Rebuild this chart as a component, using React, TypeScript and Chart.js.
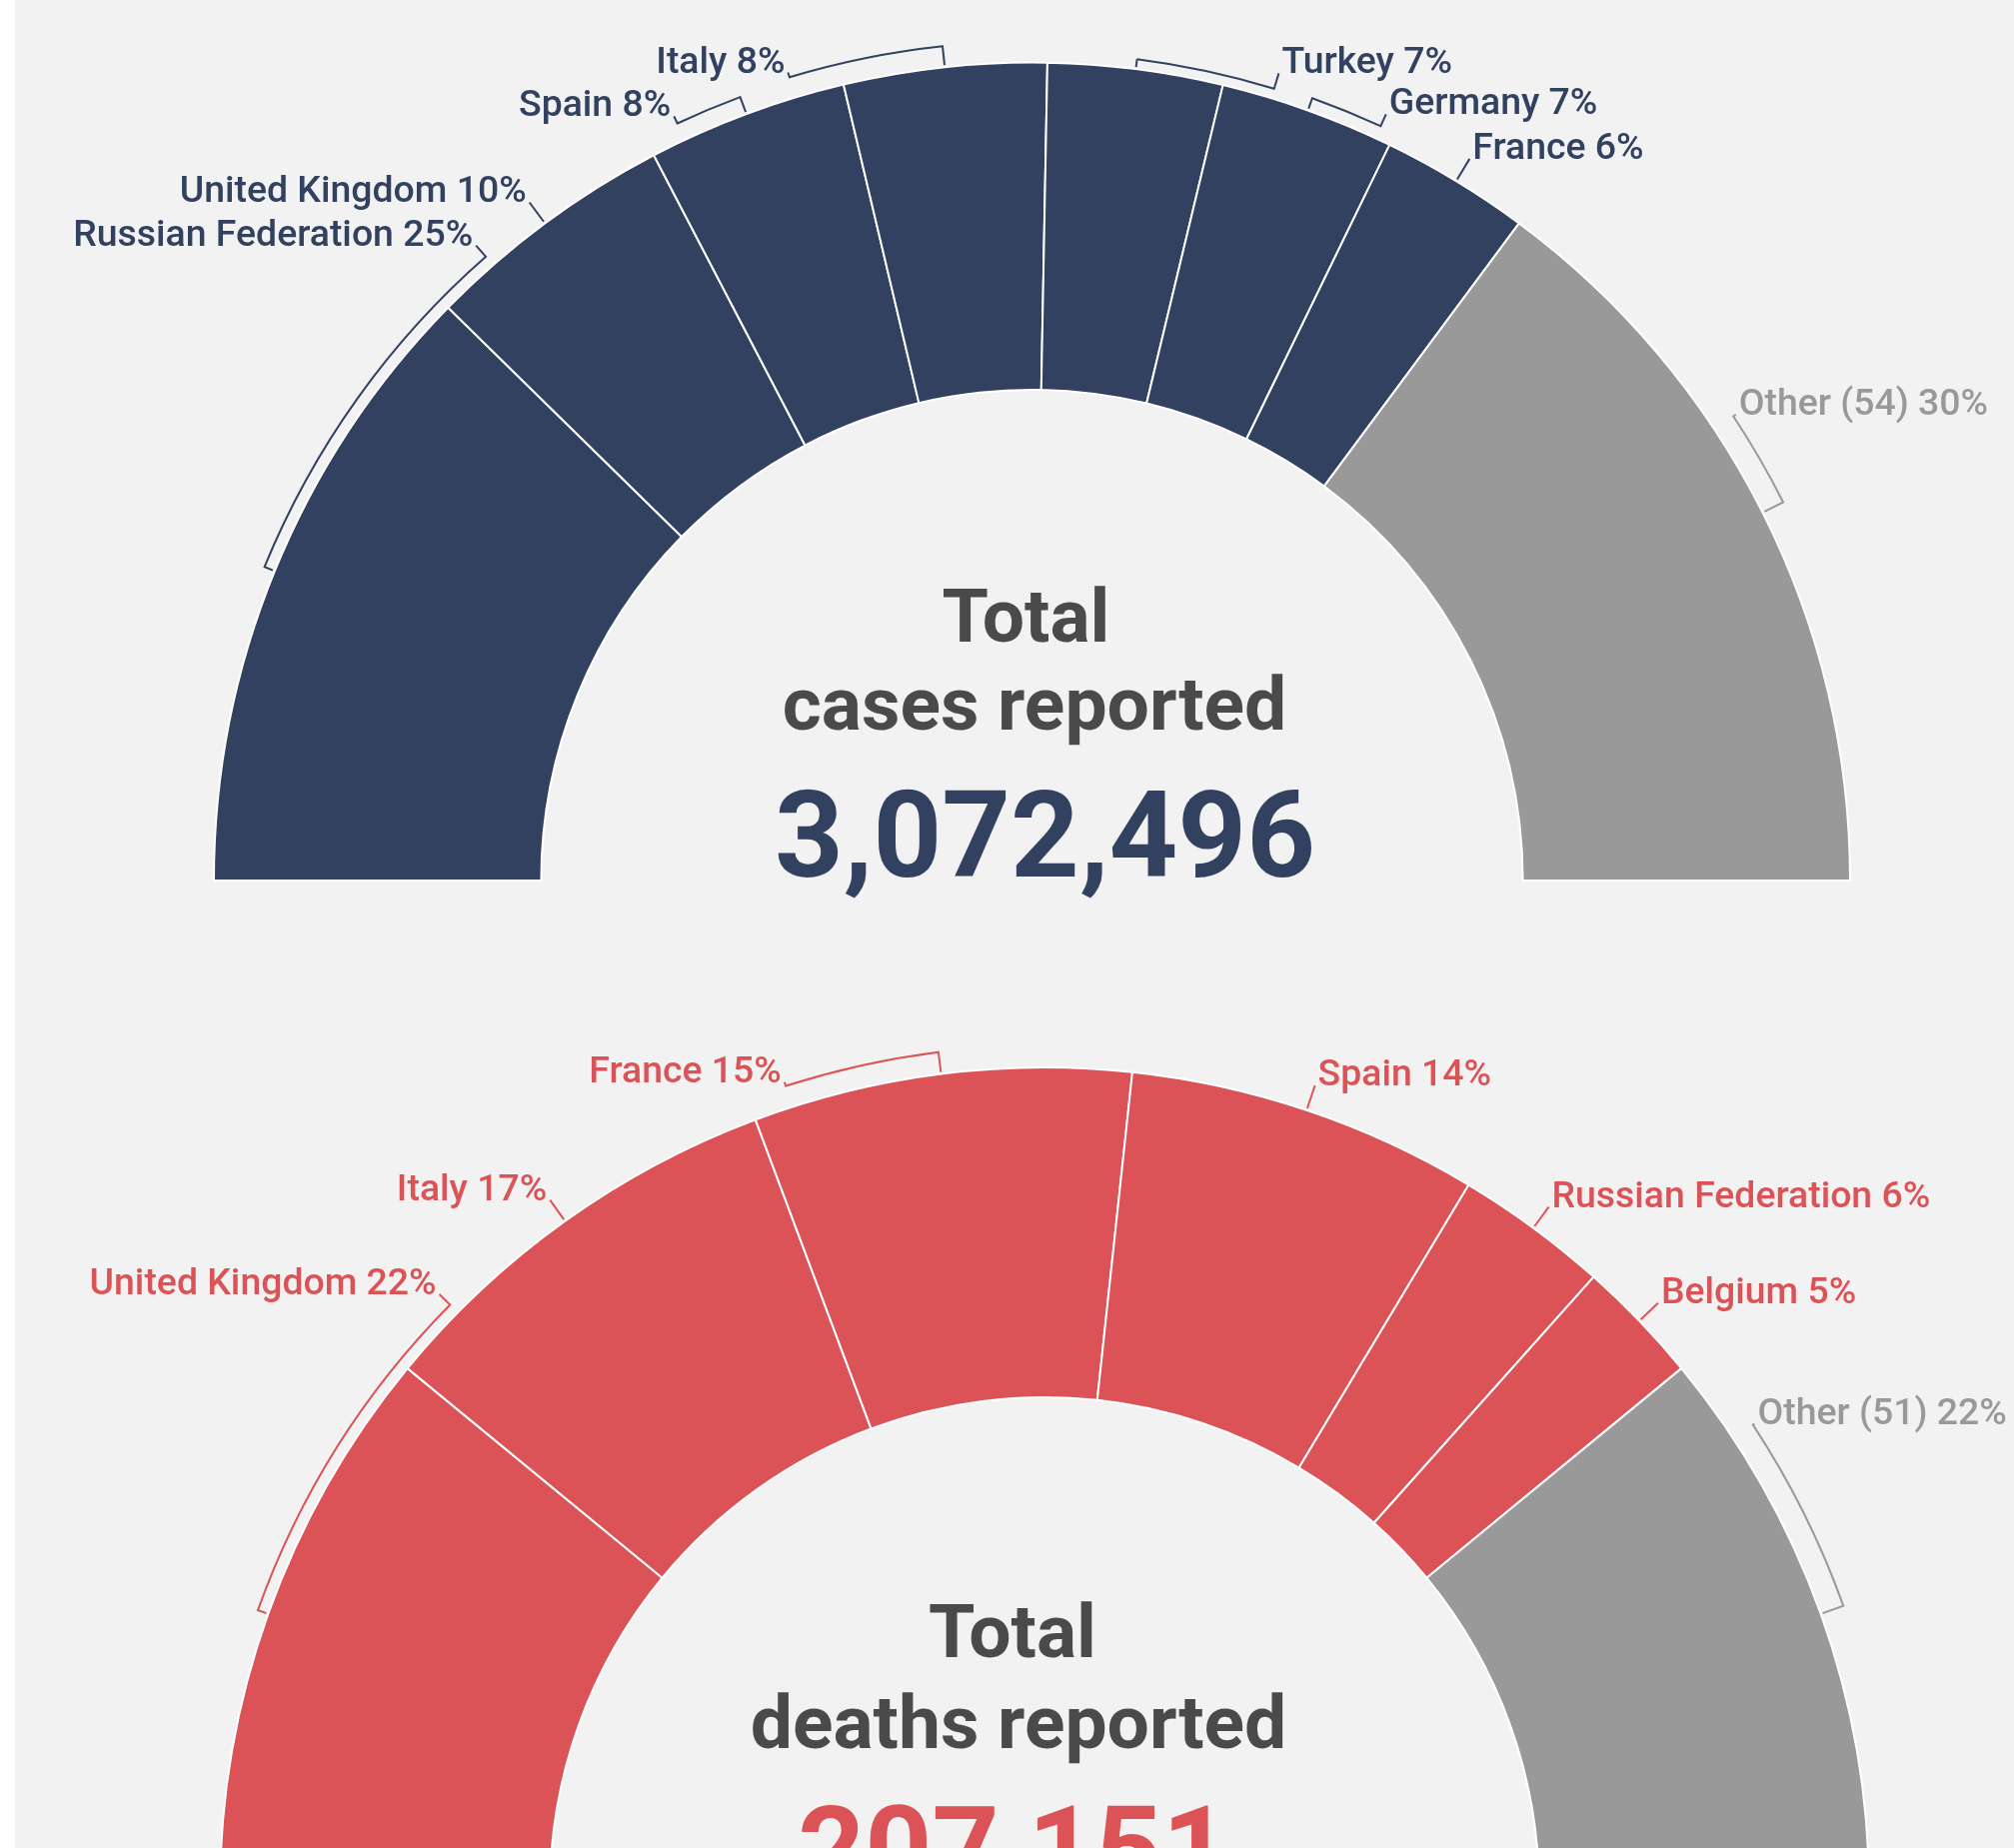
import React, { useEffect, useRef } from "react";
import { Chart, registerables } from "chart.js";

Chart.register(...registerables);

// ---------- DATA ----------
const casesCountries = [
  "Russian Federation",
  "United Kingdom",
  "Spain",
  "Italy",
  "Turkey",
  "Germany",
  "France",
  "Other (54)",
];
const casesShare = [24.7, 10.0, 7.9, 8.0, 6.9, 6.9, 5.9, 29.7];
const casesTotal = "3,072,496";

const deathsCountries = [
  "United Kingdom",
  "Italy",
  "France",
  "Spain",
  "Russian Federation",
  "Belgium",
  "Other (51)",
];
const deathsShare = [21.9, 16.7, 14.8, 13.8, 6.0, 4.9, 21.9];
const deathsTotal = "207,151";

// ---------- LAYOUT (label placement, not data) ----------
// label angle in degrees (null = at slice middle), bracket radius offset
const casesLabelAngles = [131.2, null, 115.1, 106.8, 73.0, 65.2, null, 33.5];
const casesBrackets = [11, 0, 18, 21, 10, 13, 0, 23];
const deathsLabelAngles = [135.35, null, 107.8, null, null, null, 33.4];
const deathsBrackets = [11, 0, 22, 0, 0, 0, 24];

const NAVY = "#31415f";
const RED = "#dc5357";
const GREY = "#999999";
const TITLE = "#4a4a4a";
const BG = "#f2f2f2";

const gaugePlugin = {
  id: "gaugeLabels",
  afterDatasetsDraw(chart: any, _args: any, opts: any) {
    const meta = chart.getDatasetMeta(0);
    const ctx: CanvasRenderingContext2D = chart.ctx;
    const ds = chart.data.datasets[0];
    const data = ds.data as number[];
    const colors = ds.backgroundColor as string[];
    const labels = chart.data.labels as string[];
    const sum = data.reduce((a, b) => a + b, 0);
    ctx.save();
    let cx = 0,
      cy = 0;
    meta.data.forEach((arc: any, i: number) => {
      const p = arc.getProps(["x", "y", "startAngle", "endAngle", "outerRadius"], true);
      const x = p.x,
        y = p.y,
        R = p.outerRadius;
      cx = x;
      cy = y;
      const mid = (p.startAngle + p.endAngle) / 2;
      const la = opts.labelAngles[i];
      const lab = la == null ? mid : (-la * Math.PI) / 180;
      const b = R + opts.brackets[i];
      const r0 = R + 2;
      const rl = R + opts.labelGap;
      ctx.strokeStyle = colors[i];
      ctx.lineWidth = 2;
      ctx.lineJoin = "miter";
      ctx.beginPath();
      ctx.moveTo(x + r0 * Math.cos(mid), y + r0 * Math.sin(mid));
      if (la == null) {
        ctx.lineTo(x + rl * Math.cos(mid), y + rl * Math.sin(mid));
      } else {
        ctx.lineTo(x + b * Math.cos(mid), y + b * Math.sin(mid));
        ctx.arc(x, y, b, mid, lab, lab < mid);
        ctx.lineTo(x + rl * Math.cos(lab), y + rl * Math.sin(lab));
      }
      ctx.stroke();
      const px = x + rl * Math.cos(lab);
      const py = y + rl * Math.sin(lab);
      const left = Math.cos(lab) < 0;
      ctx.font = "500 37.4px Roboto";
      ctx.fillStyle = colors[i];
      ctx.textAlign = left ? "right" : "left";
      ctx.textBaseline = "alphabetic";
      const pct = Math.round((data[i] / sum) * 100);
      ctx.fillText(`${labels[i]} ${pct}%`, px + (left ? -3 : 3), py);
    });
    // centre texts
    ctx.textAlign = "center";
    ctx.textBaseline = "alphabetic";
    ctx.fillStyle = TITLE;
    ctx.font = "bold 75px Roboto";
    ctx.fillText(opts.title1, cx + opts.title1Dx, cy + opts.title1Dy);
    ctx.fillText(opts.title2, cx + opts.title2Dx, cy + opts.title2Dy);
    ctx.fillStyle = opts.numberColor;
    ctx.font = `bold ${opts.numberSize}px Roboto`;
    ctx.fillText(opts.number, cx + opts.numberDx, cy + opts.numberDy);
    ctx.restore();
  },
};

type GaugeProps = {
  top: number;
  height: number;
  names: string[];
  values: number[];
  mainColor: string;
  radius: number;
  padLeft: number;
  padBottom: number;
  labelAngles: (number | null)[];
  brackets: number[];
  title2: string;
  number: string;
  numberSize: number;
  title1Dx: number;
  title2Dx: number;
  numberDx: number;
  title1Dy: number;
  title2Dy: number;
  numberDy: number;
};

function Gauge(props: GaugeProps) {
  const ref = useRef<HTMLCanvasElement | null>(null);
  useEffect(() => {
    if (!ref.current) return;
    const colors = props.values.map((_, i) =>
      i === props.values.length - 1 ? GREY : props.mainColor
    );
    const chart = new Chart(ref.current, {
      type: "doughnut",
      data: {
        labels: props.names,
        datasets: [
          {
            data: props.values,
            backgroundColor: colors,
            borderColor: "#ffffff",
            borderWidth: 2,
            hoverOffset: 0,
          },
        ],
      },
      options: {
        responsive: false,
        animation: false,
        devicePixelRatio: 1,
        events: [],
        rotation: -90,
        circumference: 180,
        cutout: "60%",
        radius: props.radius,
        layout: {
          padding: { left: props.padLeft, right: 0, top: 0, bottom: props.padBottom },
        },
        plugins: {
          legend: { display: false },
          tooltip: { enabled: false },
          gaugeLabels: {
            labelAngles: props.labelAngles,
            brackets: props.brackets,
            labelGap: 26,
            title1: "Total",
            title2: props.title2,
            number: props.number,
            numberSize: props.numberSize,
            numberColor: props.mainColor,
            title1Dx: props.title1Dx,
            title2Dx: props.title2Dx,
            numberDx: props.numberDx,
            title1Dy: props.title1Dy,
            title2Dy: props.title2Dy,
            numberDy: props.numberDy,
          },
        } as any,
      } as any,
      plugins: [gaugePlugin as any],
    });
    return () => chart.destroy();
  }, []);
  return (
    <canvas
      ref={ref}
      width={2015}
      height={props.height}
      style={{ position: "absolute", left: 0, top: props.top, width: 2015, height: props.height }}
    />
  );
}

export default function App() {
  return (
    <div
      style={{
        position: "absolute",
        left: 0,
        top: 0,
        width: 2015,
        height: 1849,
        overflow: "hidden",
        background: "#ffffff",
      }}
    >
      <div
        style={{
          position: "absolute",
          left: 15,
          top: 0,
          right: 0,
          bottom: 0,
          background: BG,
        }}
      />
      <Gauge
        top={0}
        height={1000}
        names={casesCountries}
        values={casesShare}
        mainColor={NAVY}
        radius={818.5}
        padLeft={50}
        padBottom={56.5}
        labelAngles={casesLabelAngles}
        brackets={casesBrackets}
        title2="cases reported"
        number={casesTotal}
        numberSize={120}
        title1Dx={-6}
        title2Dx={2.5}
        numberDx={13}
        title1Dy={-239}
        title2Dy={-151}
        numberDy={-4}
      />
      <Gauge
        top={1000}
        height={1000}
        names={deathsCountries}
        values={deathsShare}
        mainColor={RED}
        radius={825}
        padLeft={75}
        padBottom={39}
        labelAngles={deathsLabelAngles}
        brackets={deathsBrackets}
        title2="deaths reported"
        number={deathsTotal}
        numberSize={117}
        title1Dx={-32}
        title2Dx={-26}
        numberDx={-31}
        title1Dy={-235}
        title2Dy={-144}
        numberDy={-3}
      />
    </div>
  );
}
